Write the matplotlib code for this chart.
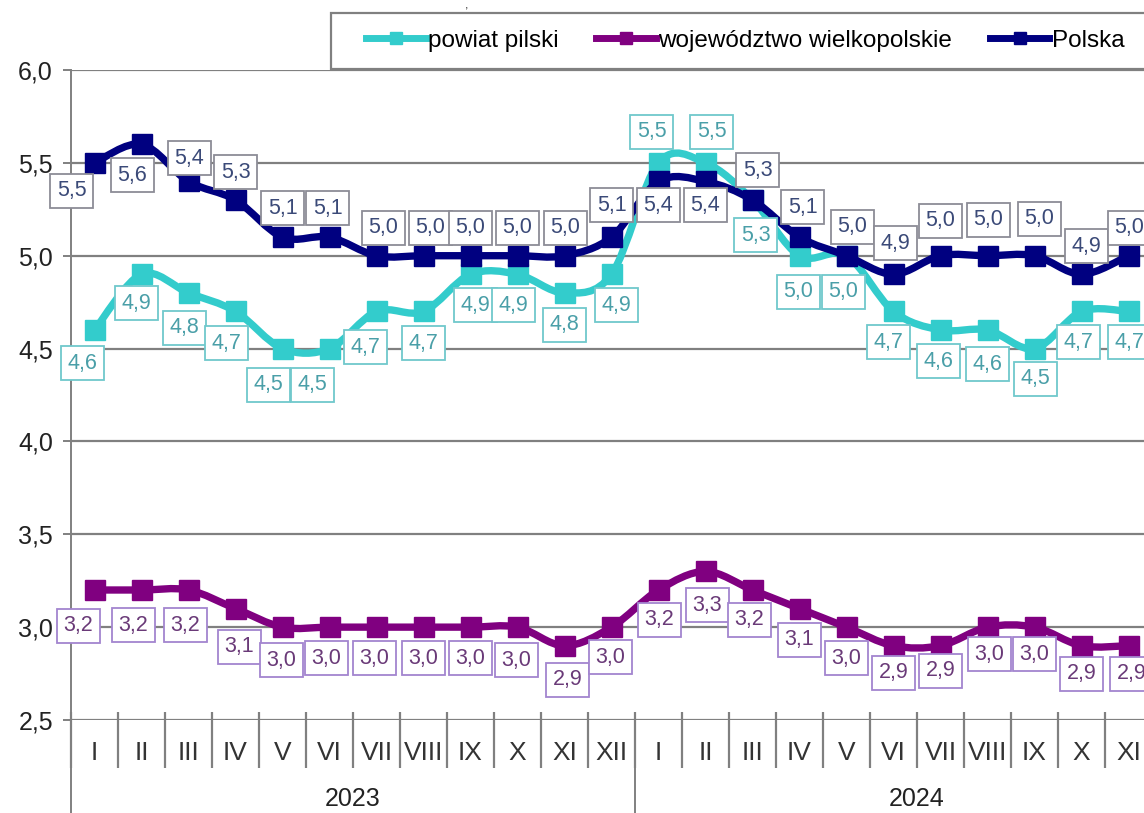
import matplotlib
matplotlib.use("Agg")
import matplotlib.pyplot as plt
import numpy as np
from matplotlib.path import Path
from matplotlib.patches import PathPatch, Rectangle
from matplotlib.lines import Line2D

plt.rcParams["font.family"] = ["Liberation Sans", "DejaVu Sans"]

# --- data -------------------------------------------------------------
# the reference is cut off on the right, after XI 2024
months = ["I", "II", "III", "IV", "V", "VI", "VII", "VIII", "IX", "X", "XI", "XII",
          "I", "II", "III", "IV", "V", "VI", "VII", "VIII", "IX", "X", "XI"]
years = ["2023", "2024"]

powiat_pilski = [4.6, 4.9, 4.8, 4.7, 4.5, 4.5, 4.7, 4.7, 4.9, 4.9, 4.8, 4.9,
                 5.5, 5.5, 5.3, 5.0, 5.0, 4.7, 4.6, 4.6, 4.5, 4.7, 4.7]
wielkopolskie = [3.2, 3.2, 3.2, 3.1, 3.0, 3.0, 3.0, 3.0, 3.0, 3.0, 2.9, 3.0,
                 3.2, 3.3, 3.2, 3.1, 3.0, 2.9, 2.9, 3.0, 3.0, 2.9, 2.9]
polska = [5.5, 5.6, 5.4, 5.3, 5.1, 5.1, 5.0, 5.0, 5.0, 5.0, 5.0, 5.1,
          5.4, 5.4, 5.3, 5.1, 5.0, 4.9, 5.0, 5.0, 5.0, 4.9, 5.0]

# label offsets from marker, pixels (dx right, dy down) -- layout only
off_powiat = [(-12, 33), (-5, 29), (-4, 35), (-9, 32), (-14, 36), (-17, 36), (-11, 36), (0, 32),
              (5, 31), (-4, 31), (0, 32), (5, 31), (-7, -31), (6, -31), (3, 35), (-1, 36),
              (-3, 36), (-5, 31), (-2, 31), (0, 34), (1, 30), (-3, 31), (1, 31)]
off_woj = [(-16, 36), (-8, 35), (-3, 35), (4, 38), (-1, 33), (-3, 31), (-2, 31), (0, 31),
           (0, 31), (-1, 33), (3, 34), (-1, 30), (1, 30), (2, 34), (-3, 30), (0, 31),
           (0, 31), (0, 27), (0, 25), (2, 27), (0, 27), (0, 28), (3, 28)]
off_polska = [(-23, 28), (-9, 31), (1, -23), (0, -28), (0, -29), (-2, -29), (7, -28), (7, -28),
              (0, -28), (0, -28), (1, -28), (0, -32), (0, 24), (0, 24), (5, -30), (3, -30),
              (6, -29), (2, -31), (0, -35), (1, -36), (5, -37), (5, -28), (1, -28)]

series = [
    ("powiat pilski", powiat_pilski, off_powiat, "#33CCCC", "#4a9fa8", "#70c8cc"),
    ("województwo wielkopolskie", wielkopolskie, off_woj, "#800080", "#6a3a78", "#a385cf"),
    ("Polska", polska, off_polska, "#000080", "#3b4a78", "#8c8c96"),
]


def smooth_path(x, y):
    """Excel-style smoothed line as cubic Bezier segments through the points."""
    pts = np.column_stack([x, y])
    n = len(pts)
    verts, codes = [pts[0]], [Path.MOVETO]
    for i in range(n - 1):
        p0 = pts[i - 1] if i > 0 else pts[i]
        p1, p2 = pts[i], pts[i + 1]
        p3 = pts[i + 2] if i + 2 < n else pts[i + 1]
        verts += [p1 + (p2 - p0) / 6, p2 - (p3 - p1) / 6, p2]
        codes += [Path.CURVE4] * 3
    return Path(verts, codes)


W, H = 1144, 813
fig = plt.figure(figsize=(W / 100, H / 100), dpi=100)
# plot area runs past the right edge (the reference is cropped there)
ax = fig.add_axes([71 / W, 93 / H, 24 * 47 / W, 650 / H])

ax.set_xlim(0, 24)
ax.set_ylim(2.5, 6.0)
yt = np.arange(2.5, 6.01, 0.5)
ax.set_yticks(yt)
ax.set_yticklabels([f"{v:.1f}".replace(".", ",") for v in yt], fontsize=18, color="#222222")
ax.tick_params(axis="y", length=6, width=1.4, color="#808080", pad=7)
ax.set_xticks([])
ax.grid(axis="y", color="#808080", lw=1.6)
ax.set_axisbelow(True)
for s in ("top", "right", "bottom"):
    ax.spines[s].set_visible(False)
ax.spines["left"].set_color("#808080")
ax.spines["left"].set_linewidth(1.4)

handles = []
for z, (name, vals, offs, color, tcol, ecol) in enumerate(series):
    x = np.arange(len(vals)) + 0.5
    ax.add_patch(PathPatch(smooth_path(x, vals), facecolor="none", edgecolor=color,
                           lw=5.3, joinstyle="round", capstyle="round", zorder=3 + z))
    ax.plot(x, vals, ls="none", marker="s", ms=14.5, color=color, zorder=3 + z)
    for xi, v, (dx, dy) in zip(x, vals, offs):
        ax.annotate(f"{v:.1f}".replace(".", ","), (xi, v), xytext=(dx, -dy),
                    textcoords="offset pixels", ha="center", va="center",
                    fontsize=15.5, color=tcol, zorder=10,
                    bbox=dict(boxstyle="square,pad=0.3", fc="white", ec=ecol, lw=1.3))
    handles.append(Line2D([], [], color=color, lw=5, marker="s", ms=9))

# category axis: month labels, separators, years
xt = ax.get_xaxis_transform()
for i, m in enumerate(months):
    ax.text(i + 0.5, -0.051, m, transform=xt, ha="center", va="center",
            fontsize=19, color="#333333")
ax.vlines(np.arange(0, 25), 0.012, -0.074, transform=xt, color="#808080",
          lw=1.6, clip_on=False)
ax.vlines([0, 12, 24], 0, -0.2, transform=xt, color="#808080", lw=1.4, clip_on=False)
for j, yr in enumerate(years):
    ax.text(12 * j + 6, -0.122, yr, transform=xt, ha="center", va="center",
            fontsize=18, color="#222222")

# legend box (its right side is cut off in the reference)
fig.add_artist(Rectangle((331 / W, 1 - 69 / H), 1.0, 56 / H, transform=fig.transFigure,
                         fc="white", ec="#808080", lw=1.6, zorder=20))
leg = fig.legend(handles, [s[0] for s in series], ncol=3, frameon=False,
                 loc="center left", bbox_to_anchor=(366 / W, 1 - 41 / H),
                 fontsize=17.5, handlelength=2.45, handletextpad=0.1, columnspacing=1.55,
                 borderpad=0, borderaxespad=0)
leg.set_zorder(21)

# tail of the cut-off title above the chart
fig.text(467 / W, 1.0, ",", ha="center", va="top", fontsize=9, color="#333333")

fig.savefig("out.png", dpi=100)
